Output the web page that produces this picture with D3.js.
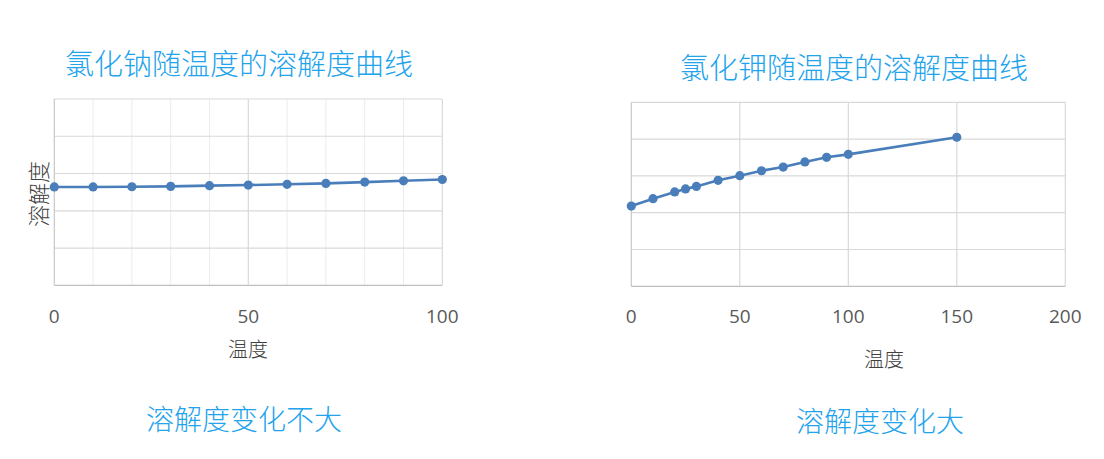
<!DOCTYPE html>
<html>
<head>
<meta charset="utf-8">
<script src="https://cdn.jsdelivr.net/npm/d3@7.9.0/dist/d3.min.js"></script>
<style>
  html, body { margin: 0; padding: 0; background: #fff; }
  svg { display: block; }
  .tick-label { font-family: "Open Sans", "Noto Sans", sans-serif; font-size: 19px; fill: #595959; }
  .title { font-family: "Noto Sans CJK SC", sans-serif; font-weight: 300; fill: #22a3ec; }
  .axis-title { font-family: "Noto Sans CJK SC", sans-serif; font-weight: 300; fill: #404040; }
</style>
</head>
<body>
<svg id="chart" width="1104" height="459"></svg>
<script>
// NaCl solubility curve (y axis has no labels, values read on a 0-100 scale)
const naclTemps = [0, 10, 20, 30, 40, 50, 60, 70, 80, 90, 100];
const naclSolubility = [52.8, 52.8, 52.9, 53.1, 53.5, 53.8, 54.2, 54.7, 55.4, 56.1, 56.8];
const naclTicks = [0, 50, 100];
const naclMinorTicks = [10, 20, 30, 40, 60, 70, 80, 90];

// KCl solubility curve
const kclTemps = [0, 10, 20, 25, 30, 40, 50, 60, 70, 80, 90, 100, 150];
const kclSolubility = [43.6, 47.6, 51.3, 52.9, 54.3, 57.6, 60.1, 62.8, 64.8, 67.6, 70.1, 71.7, 81.0];
const kclTicks = [0, 50, 100, 150, 200];

const yGridTicks = [0, 20, 40, 60, 80, 100];

const titles = ['氯化钠随温度的溶解度曲线', '氯化钾随温度的溶解度曲线'];
const notes = ['溶解度变化不大', '溶解度变化大'];
const xTitle = '温度';
const yTitle = '溶解度';

const lineColor = '#4a7ebb';
const svg = d3.select('#chart');

function drawPanel(cfg) {
  const x = d3.scaleLinear().domain(cfg.xDomain).range([cfg.left, cfg.right]);
  const y = d3.scaleLinear().domain([0, 100]).range([cfg.bottom, cfg.top]);
  const g = svg.append('g');

  // minor vertical gridlines
  g.selectAll('line.minor')
    .data(cfg.minor || [])
    .join('line')
    .attr('x1', d => x(d)).attr('x2', d => x(d))
    .attr('y1', cfg.top).attr('y2', cfg.bottom)
    .attr('stroke', '#ececec').attr('stroke-width', 1);

  // horizontal gridlines
  g.selectAll('line.h')
    .data(yGridTicks)
    .join('line')
    .attr('x1', cfg.left).attr('x2', cfg.right)
    .attr('y1', d => y(d)).attr('y2', d => y(d))
    .attr('stroke', d => d === 0 ? '#bfbfbf' : '#d9d9d9').attr('stroke-width', 1.2);

  // major vertical gridlines
  g.selectAll('line.major')
    .data(cfg.ticks)
    .join('line')
    .attr('x1', d => x(d)).attr('x2', d => x(d))
    .attr('y1', cfg.top).attr('y2', cfg.bottom)
    .attr('stroke', d => d === 0 ? '#c8c8c8' : '#d9d9d9').attr('stroke-width', 1.2);

  // tick labels
  g.selectAll('text.tick-label')
    .data(cfg.ticks)
    .join('text')
    .attr('class', 'tick-label')
    .attr('x', d => x(d))
    .attr('y', cfg.tickY)
    .attr('text-anchor', 'middle')
    .attr('dominant-baseline', 'central')
    .text(d => d);

  const pts = cfg.xs.map((t, i) => [t, cfg.ys[i]]);
  const line = d3.line().x(d => x(d[0])).y(d => y(d[1]));

  g.append('path')
    .datum(pts)
    .attr('d', line)
    .attr('fill', 'none')
    .attr('stroke', lineColor)
    .attr('stroke-width', 2.6);

  g.selectAll('circle')
    .data(pts)
    .join('circle')
    .attr('cx', d => x(d[0]))
    .attr('cy', d => y(d[1]))
    .attr('r', 4.6)
    .attr('fill', lineColor);

  g.append('text')
    .attr('class', 'title')
    .attr('x', cfg.titleX).attr('y', cfg.titleY)
    .attr('text-anchor', 'middle').attr('dominant-baseline', 'central')
    .style('font-size', '29px')
    .text(cfg.title);

  g.append('text')
    .attr('class', 'title')
    .attr('x', cfg.noteX).attr('y', cfg.noteY)
    .attr('text-anchor', 'middle').attr('dominant-baseline', 'central')
    .style('font-size', '28px')
    .text(cfg.note);

  g.append('text')
    .attr('class', 'axis-title')
    .attr('x', cfg.xTitleX).attr('y', cfg.xTitleY)
    .attr('text-anchor', 'middle').attr('dominant-baseline', 'central')
    .style('font-size', '20px')
    .text(xTitle);

  if (cfg.showYTitle) {
    g.append('text')
      .attr('class', 'axis-title')
      .attr('transform', `translate(37,194) rotate(-90)`)
      .attr('text-anchor', 'middle').attr('dominant-baseline', 'central')
      .style('font-size', '22px')
      .text(yTitle);
  }
}

drawPanel({
  xDomain: [0, 100], left: 54.3, right: 442.3, top: 99, bottom: 285.3,
  xs: naclTemps, ys: naclSolubility, ticks: naclTicks, minor: naclMinorTicks,
  tickY: 316, title: titles[0], titleX: 239, titleY: 62,
  note: notes[0], noteX: 244, noteY: 418,
  xTitleX: 248, xTitleY: 348, showYTitle: true
});

drawPanel({
  xDomain: [0, 200], left: 631.3, right: 1065.3, top: 102.3, bottom: 286.3,
  xs: kclTemps, ys: kclSolubility, ticks: kclTicks,
  tickY: 316, title: titles[1], titleX: 854, titleY: 66,
  note: notes[1], noteX: 880, noteY: 420,
  xTitleX: 884, xTitleY: 358, showYTitle: false
});
</script>
</body>
</html>
